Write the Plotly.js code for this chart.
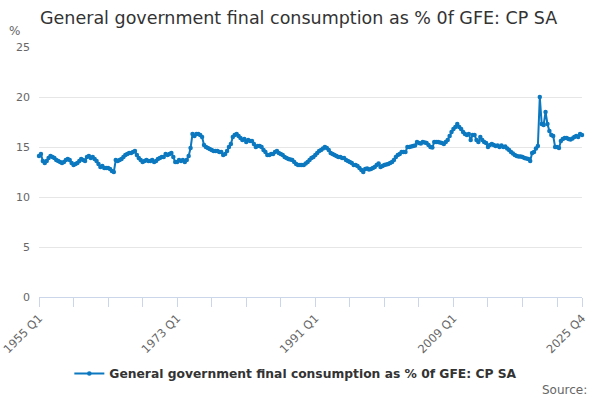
<!DOCTYPE html>
<html>
<head>
<meta charset="utf-8">
<script src="https://cdn.plot.ly/plotly-3.0.1.min.js"></script>
<style>
html,body{margin:0;padding:0;background:#fff;}
#chart{width:600px;height:400px;}
</style>
</head>
<body>
<div id="chart"></div>
<script>
// Quarterly series: General government final consumption as % 0f GFE: CP SA
var firstYear = 1955;
var lastYear = 2025;
var quarters = ["Q1", "Q2", "Q3", "Q4"];

var values1955to1964 = [
  14.1, 14.3, 13.6, 13.4,
  13.6, 13.9, 14.1, 14.0,
  13.9, 13.7, 13.6, 13.5,
  13.4, 13.5, 13.7, 13.8,
  13.7, 13.4, 13.2, 13.3,
  13.4, 13.6, 13.8, 13.7,
  13.6, 14.0, 14.1, 13.9,
  14.0, 13.8, 13.6, 13.3,
  13.0, 13.1, 12.9, 12.9,
  12.9, 12.8, 12.6, 12.5
];
var values1965to1974 = [
  13.7, 13.6, 13.7, 13.8,
  14.0, 14.2, 14.3, 14.4,
  14.4, 14.5, 14.6, 14.2,
  13.9, 13.7, 13.5, 13.6,
  13.7, 13.6, 13.6, 13.7,
  13.5, 13.6, 13.8, 13.9,
  14.0, 14.0, 14.3, 14.2,
  14.3, 14.4, 14.0, 13.5,
  13.5, 13.7, 13.6, 13.7,
  13.5, 13.7, 14.1, 14.9
];
var values1975to1984 = [
  16.3, 16.1, 16.3, 16.3,
  16.2, 16.0, 15.2, 15.0,
  14.9, 14.8, 14.7, 14.6,
  14.6, 14.6, 14.5, 14.5,
  14.2, 14.3, 14.6, 15.0,
  15.3, 16.0, 16.2, 16.3,
  16.1, 15.9, 15.7, 15.8,
  15.5, 15.7, 15.6, 15.6,
  15.3, 15.0, 15.1, 15.1,
  15.0, 14.7, 14.5, 14.2
];
var values1985to1994 = [
  14.2, 14.3, 14.3, 14.5,
  14.6, 14.4, 14.3, 14.2,
  14.0, 13.9, 13.8, 13.75,
  13.7, 13.5, 13.3, 13.2,
  13.2, 13.2, 13.2, 13.35,
  13.5, 13.7, 13.9, 14.0,
  14.2, 14.4, 14.6, 14.7,
  14.85, 15.0, 14.9, 14.7,
  14.4, 14.3, 14.2, 14.1,
  14.0, 14.0, 13.9, 13.9
];
var values1995to2004 = [
  13.7, 13.6, 13.5, 13.4,
  13.2, 13.2, 13.1, 12.9,
  12.7, 12.5, 12.8, 12.85,
  12.75, 12.8, 12.9, 13.0,
  13.2, 13.35, 13.0, 13.1,
  13.2, 13.25, 13.3, 13.4,
  13.5, 13.7, 14.0, 14.2,
  14.3, 14.5, 14.5, 14.5,
  15.0, 15.0, 15.05, 15.1,
  15.15, 15.5, 15.4, 15.35
];
var values2005to2014 = [
  15.5, 15.45, 15.4, 15.2,
  15.0, 14.95, 15.5, 15.5,
  15.5, 15.45, 15.4, 15.3,
  15.5, 15.7, 16.1, 16.5,
  16.8, 17.0, 17.3, 17.0,
  16.8, 16.5, 16.3, 16.2,
  16.3, 15.7, 16.2, 16.2,
  15.7, 15.5, 16.0, 15.7,
  15.5, 15.4, 15.0, 15.2,
  15.3, 15.2, 15.1, 15.15
];
var values2015to2025 = [
  15.0, 15.15, 15.0, 15.05,
  14.85, 14.7, 14.5, 14.35,
  14.2, 14.1, 14.05, 14.05,
  14.0, 13.9, 13.85, 13.8,
  13.6, 14.4, 14.5, 14.85,
  15.1, 20.0, 17.3, 17.2,
  18.5, 17.3, 16.6, 16.2,
  16.1, 15.0, 15.0, 14.9,
  15.6, 15.8, 15.9, 15.9,
  15.8, 15.75, 15.85, 16.0,
  16.1, 16.0, 16.3, 16.2
];

var tickLabels = ["1955 Q1", "1973 Q1", "1991 Q1", "2009 Q1", "2025 Q4"];
var yTickValues = [0, 5, 10, 15, 20, 25];
var seriesName = "General government final consumption as % 0f GFE: CP SA";

var values = [].concat(values1955to1964, values1965to1974, values1975to1984,
  values1985to1994, values1995to2004, values2005to2014, values2015to2025);

var categories = [];
for (var y = firstYear; y <= lastYear; y++) {
  for (var q = 0; q < quarters.length; q++) categories.push(y + " " + quarters[q]);
}

// tick marks every 18 quarters plus the final quarter; labels only on listed ones
var tickvals = [], ticktext = [];
for (var i = 0; i < categories.length; i += 18) {
  tickvals.push(categories[i]);
  ticktext.push(tickLabels.indexOf(categories[i]) >= 0 ? categories[i] : "");
}
var lastCat = categories[categories.length - 1];
tickvals.push(lastCat);
ticktext.push(tickLabels.indexOf(lastCat) >= 0 ? lastCat : "");

var lineColor = "#0b78bf";

var trace = {
  type: "scatter",
  mode: "lines+markers",
  x: categories,
  y: values,
  name: seriesName,
  line: {color: lineColor, width: 2},
  marker: {color: lineColor, size: 4.5, symbol: "circle"},
  cliponaxis: false
};

var layout = {
  width: 600,
  height: 400,
  paper_bgcolor: "#ffffff",
  plot_bgcolor: "#ffffff",
  font: {family: "DejaVu Sans, Verdana, sans-serif", color: "#666666", size: 11},
  margin: {l: 39.3, r: 18, t: 46.7, b: 102.7},
  title: {
    text: "General government final consumption as % 0f GFE: CP SA",
    font: {family: "DejaVu Sans, Verdana, sans-serif", size: 17.5, color: "#333333"},
    x: 40 / 600, xanchor: "left",
    y: 1 - 18 / 400, yanchor: "middle"
  },
  xaxis: {
    type: "category",
    range: [0, categories.length - 1],
    tickmode: "array",
    tickvals: tickvals,
    ticktext: ticktext,
    tickangle: -45,
    ticks: "outside",
    ticklen: 9,
    tickwidth: 1,
    tickcolor: "#ccd6eb",
    showline: true,
    linecolor: "#ccd6eb",
    linewidth: 1,
    showgrid: false,
    zeroline: false,
    tickfont: {size: 11.5, color: "#666666"},
    fixedrange: true
  },
  yaxis: {
    range: [0, 25],
    tickmode: "array",
    tickvals: yTickValues,
    showgrid: true,
    gridcolor: "#e6e6e6",
    gridwidth: 1,
    zeroline: false,
    showline: false,
    ticks: "",
    ticklabelstandoff: 8,
    tickfont: {size: 11, color: "#666666"},
    fixedrange: true
  },
  showlegend: true,
  legend: {
    orientation: "h",
    x: 0.473, xanchor: "center",
    y: -0.306, yanchor: "middle",
    itemwidth: 30,
    font: {size: 12.3, color: "#333333", weight: "bold"},
    bgcolor: "rgba(0,0,0,0)"
  },
  annotations: [
    {
      text: "%", xref: "paper", yref: "paper",
      x: -0.045, y: 1.063, xanchor: "center", yanchor: "middle",
      showarrow: false, font: {size: 12, color: "#666666"}
    },
    {
      text: "Source:", xref: "paper", yref: "paper",
      x: 1.0129, y: -0.37, xanchor: "right", yanchor: "middle",
      showarrow: false, font: {size: 12, color: "#666666"}
    }
  ]
};

Plotly.newPlot("chart", [trace], layout, {displayModeBar: false, staticPlot: true});
</script>
</body>
</html>
